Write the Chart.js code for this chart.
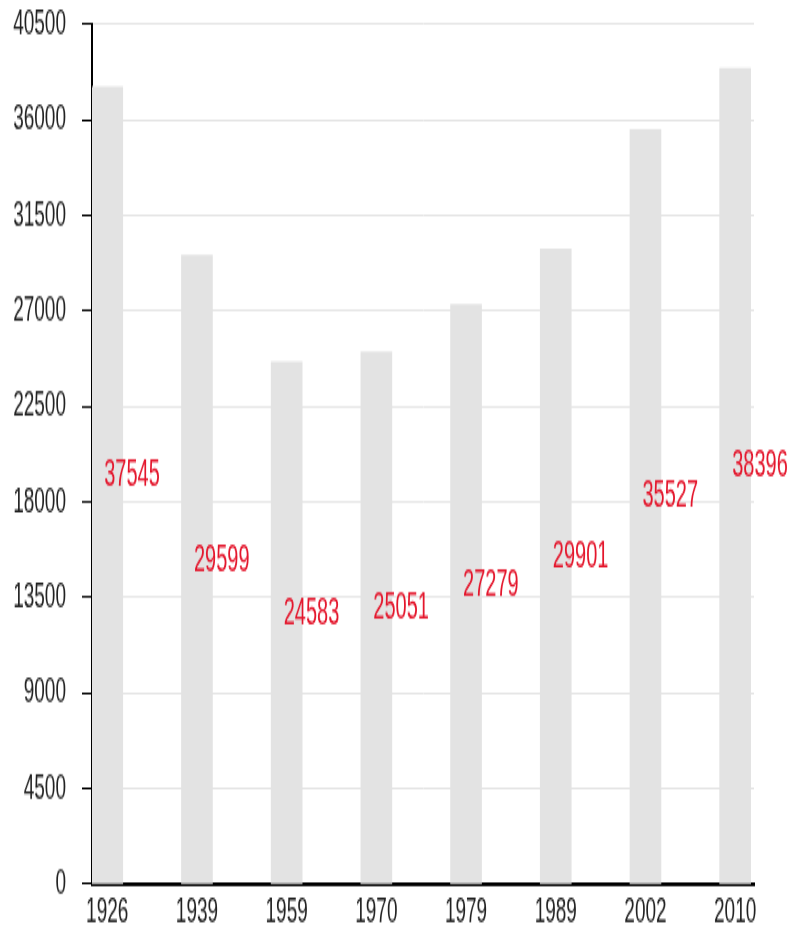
<!DOCTYPE html>
<html><head><meta charset="utf-8">
<script src="https://cdn.jsdelivr.net/npm/chart.js@4/dist/chart.umd.min.js"></script>
<style>
html,body{margin:0;padding:0;background:#fff;overflow:hidden}
canvas{display:block}
</style></head><body>
<canvas id="c" width="794" height="488" style="width:794px;height:926px"></canvas>
<script>
const years = ['1926','1939','1959','1970','1979','1989','2002','2010'];
const values = [37545, 29599, 24583, 25051, 27279, 29901, 35527, 38396];
const yTicks = [0, 4500, 9000, 13500, 18000, 22500, 27000, 31500, 36000, 40500];

const FONT = '"Liberation Sans", Arial, sans-serif';

const valueLabels = {
  id: 'valueLabels',
  afterDatasetsDraw(chart) {
    const ctx = chart.ctx;
    const meta = chart.getDatasetMeta(0);
    ctx.save();
    ctx.font = '20px ' + FONT;
    ctx.fillStyle = 'rgb(228,22,44)';
    ctx.textAlign = 'left';
    ctx.textBaseline = 'alphabetic';
    meta.data.forEach((bar, i) => {
      const mid = (bar.y + bar.base) / 2;
      ctx.fillText(String(values[i]), bar.x - 3, mid + 0.5);
    });
    ctx.restore();
  }
};

const canvas = document.getElementById('c');
new Chart(canvas, {
  type: 'bar',
  data: {
    datasets: [{
      data: values.map((v, i) => ({ x: i, y: v })),
      backgroundColor: '#e3e3e3',
      borderWidth: 0,
      barThickness: 31
    }]
  },
  options: {
    responsive: false,
    animation: false,
    devicePixelRatio: 1,
    layout: { padding: { top: 12.65, right: 40, left: 0, bottom: 0 } },
    plugins: { legend: { display: false }, tooltip: { enabled: false } },
    scales: {
      x: {
        type: 'linear',
        offset: false,
        min: -0.17,
        max: 7.21,
        afterBuildTicks: s => { s.ticks = years.map((_, i) => ({ value: i })); },
        afterFit: s => { s.height = 22.1; s.paddingLeft = 0; s.paddingRight = 0; },
        ticks: {
          callback: (v, i) => years[i],
          font: { family: FONT, size: 19 },
          color: '#222',
          padding: 3,
          maxRotation: 0,
          autoSkip: false
        },
        grid: { display: false, drawTicks: false },
        border: { color: '#000', width: 2 }
      },
      y: {
        min: 0,
        max: 40500,
        afterBuildTicks: s => { s.ticks = yTicks.map(v => ({ value: v })); },
        afterFit: s => { s.width = 92; s.paddingTop = 0; s.paddingBottom = 0; },
        ticks: {
          callback: v => String(v),
          font: { family: FONT, size: 19 },
          color: '#222',
          padding: 16
        },
        grid: { color: '#e5e5e5', tickColor: '#000', tickLength: 10, lineWidth: 1, tickWidth: 1 },
        border: { color: '#000', width: 2 }
      }
    }
  },
  plugins: [valueLabels]
});
canvas.style.width = '794px';
canvas.style.height = '926px';
</script>
</body></html>
